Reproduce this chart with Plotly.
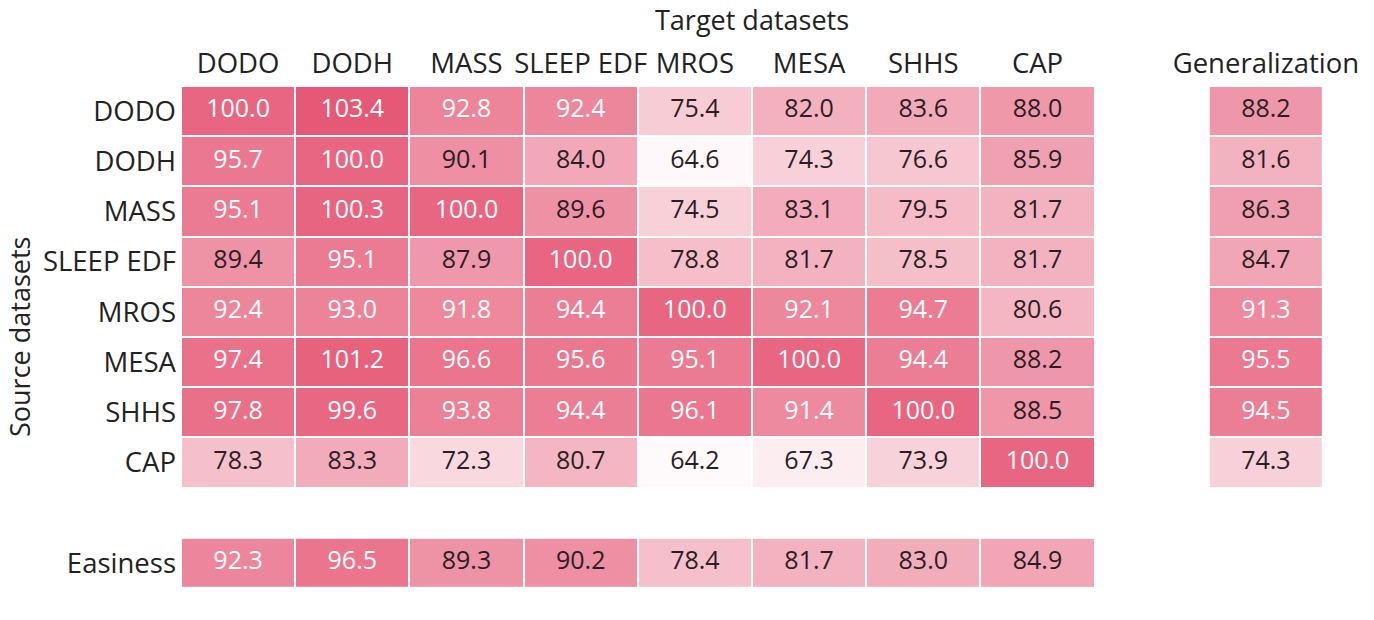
import plotly.graph_objects as go

datasets = ["DODO", "DODH", "MASS", "SLEEP EDF", "MROS", "MESA", "SHHS", "CAP"]

# rows = source datasets, columns = target datasets
matrix = [
    [100.0, 103.4, 92.8, 92.4, 75.4, 82.0, 83.6, 88.0],
    [95.7, 100.0, 90.1, 84.0, 64.6, 74.3, 76.6, 85.9],
    [95.1, 100.3, 100.0, 89.6, 74.5, 83.1, 79.5, 81.7],
    [89.4, 95.1, 87.9, 100.0, 78.8, 81.7, 78.5, 81.7],
    [92.4, 93.0, 91.8, 94.4, 100.0, 92.1, 94.7, 80.6],
    [97.4, 101.2, 96.6, 95.6, 95.1, 100.0, 94.4, 88.2],
    [97.8, 99.6, 93.8, 94.4, 96.1, 91.4, 100.0, 88.5],
    [78.3, 83.3, 72.3, 80.7, 64.2, 67.3, 73.9, 100.0],
]
generalization = [88.2, 81.6, 86.3, 84.7, 91.3, 95.5, 94.5, 74.3]
easiness = [92.3, 96.5, 89.3, 90.2, 78.4, 81.7, 83.0, 84.9]

gen_label = "Generalization"
eas_label = "Easiness"
x_title = "Target datasets"
y_title = "Source datasets"

n = len(datasets)
idx = list(range(n))
extra = n + 1  # position of extra column / row (one blank slot)

colorscale = [[0.0, "rgb(255,255,255)"], [1.0, "rgb(229,86,116)"]]
ZMIN, ZMAX = 63, 104
common = dict(colorscale=colorscale, zmin=ZMIN, zmax=ZMAX, showscale=False,
              xgap=2, ygap=2, hoverinfo="z")

fig = go.Figure()
fig.add_trace(go.Heatmap(z=matrix, x=idx, y=idx, **common))
fig.add_trace(go.Heatmap(z=[[v] for v in generalization], x=[extra], y=idx, **common))
fig.add_trace(go.Heatmap(z=[easiness], x=idx, y=[extra], **common))

# cell texts
tx, ty, tt, tc = [], [], [], []
def add_text(x, y, v):
    tx.append(x); ty.append(y); tt.append(f"{v:.1f}")
    tc.append("white" if v > 90.8 else "#2b1d24")

for i in idx:
    for j in idx:
        add_text(j, i, matrix[i][j])
    add_text(extra, i, generalization[i])
for j in idx:
    add_text(j, extra, easiness[j])

fig.add_trace(go.Scatter(x=tx, y=ty, text=tt, mode="text",
                         textfont=dict(family="Open Sans", size=25, color=tc),
                         hoverinfo="skip", showlegend=False))

fig.update_xaxes(range=[-0.5, extra + 0.5], side="top", automargin=False,
                 tickvals=idx + [extra], ticktext=datasets + [gen_label],
                 showgrid=False, zeroline=False, showline=False, ticks="",
                 ticklabelstandoff=7,
                 tickfont=dict(size=27.5, color="#222"))
fig.update_yaxes(range=[extra + 0.5, -0.5], automargin=False,
                 tickvals=idx + [extra], ticktext=datasets + [eas_label],
                 showgrid=False, zeroline=False, showline=False, ticks="",
                 ticklabelstandoff=4,
                 tickfont=dict(size=27.5, color="#222"))

PLOT_H = 620 - 86 - 32
PLOT_W = 1374 - 181 - 51
fig.add_annotation(text=x_title, xref="paper", yref="paper", x=0.5, y=1 + 67 / PLOT_H,
                   xanchor="center", yanchor="middle", showarrow=False,
                   font=dict(size=27, color="#222"))
fig.add_annotation(text=y_title, xref="paper", yref="paper", x=(19 - 181) / PLOT_W, y=0.5,
                   xanchor="center", yanchor="middle", showarrow=False, textangle=-90,
                   font=dict(size=27, color="#222"))

fig.update_layout(
    width=1374, height=620,
    margin=dict(l=181, r=51, t=86, b=32),
    paper_bgcolor="white", plot_bgcolor="white",
    font=dict(family="Open Sans", size=26, color="#222"),
    showlegend=False,
)

fig.write_html("out.html", config={"displayModeBar": False},
               post_script="document.body.style.margin='0px';")
